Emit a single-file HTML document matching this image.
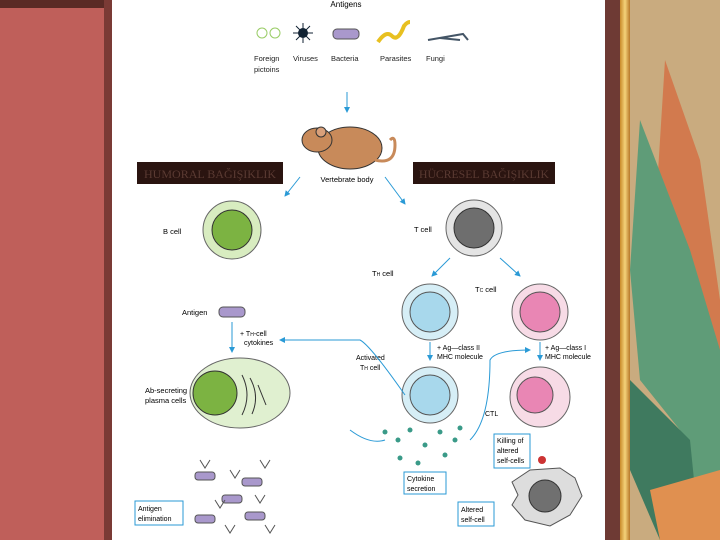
<!DOCTYPE html>
<html><head><meta charset="utf-8"><style>
html,body{margin:0;padding:0;width:720px;height:540px;overflow:hidden;background:#bf5f5a;font-family:"Liberation Sans",sans-serif}
svg{position:absolute;left:0;top:0}
</style></head><body>
<svg width="720" height="540" viewBox="0 0 720 540">
<defs>
<linearGradient id="gold" x1="0" x2="1"><stop offset="0" stop-color="#c98a2a"/><stop offset=".5" stop-color="#f4d27a"/><stop offset="1" stop-color="#b7782a"/></linearGradient>
<marker id="ar" markerWidth="6" markerHeight="6" refX="5" refY="3" orient="auto"><path d="M0,0L6,3L0,6z" fill="#2a9ad6"/></marker>
</defs>
<rect x="0" y="0" width="720" height="8" fill="#5a2a25"/>
<rect x="104" y="0" width="9" height="540" fill="#7a3a35"/>
<rect x="112" y="0" width="493" height="540" fill="#fff"/>
<rect x="605" y="0" width="15" height="540" fill="#6e3a34"/>
<rect x="620" y="0" width="10" height="540" fill="url(#gold)"/>
<rect x="630" y="0" width="90" height="540" fill="#c9ab7f"/>
<path d="M665,60 L700,160 L720,300 L720,540 L690,540 L680,400 L650,300 Z" fill="#d27a4e"/>
<path d="M640,120 L690,250 L720,350 L720,540 L700,540 L680,430 L640,380 L630,270 Z" fill="#5f9c78"/>
<path d="M630,380 L690,440 L700,540 L660,540 L630,470 Z" fill="#3f7a5f"/>
<path d="M650,490 L720,470 L720,540 L660,540Z" fill="#e09050"/>
<text x="346" y="7" font-size="8" text-anchor="middle">Antigens</text>
<circle cx="262" cy="33" r="5" fill="none" stroke="#9c6" /><circle cx="275" cy="33" r="5" fill="none" stroke="#9c6"/>
<circle cx="303" cy="33" r="5" fill="#123"/><g stroke="#123"><line x1="293" y1="33" x2="313" y2="33"/><line x1="303" y1="23" x2="303" y2="43"/><line x1="296" y1="26" x2="310" y2="40"/><line x1="310" y1="26" x2="296" y2="40"/></g>
<rect x="333" y="29" width="26" height="10" rx="4" fill="#a998cc" stroke="#555"/>
<path d="M378,42 q8,-12 14,-6 q6,6 12,-10 q3,-4 6,-4" stroke="#e8c020" stroke-width="4" fill="none"/>
<path d="M428,40 l35,-6 l5,6 M440,38 l20,2" stroke="#456" stroke-width="2" fill="none"/>
<g font-size="7.5" fill="#222"><text x="254" y="61">Foreign</text><text x="254" y="72">pictoins</text><text x="293" y="61">Viruses</text><text x="331" y="61">Bacteria</text><text x="380" y="61">Parasites</text><text x="426" y="61">Fungi</text></g>
<line x1="347" y1="92" x2="347" y2="112" stroke="#2a9ad6" marker-end="url(#ar)"/>
<ellipse cx="350" cy="148" rx="32" ry="21" fill="#c88a5a" stroke="#333"/>
<ellipse cx="317" cy="140" rx="15" ry="12" fill="#c88a5a" stroke="#333"/>
<circle cx="321" cy="132" r="5" fill="#d9a07a" stroke="#333"/>
<path d="M375,160 q20,5 20,-15 q0,-10 -5,-5" stroke="#c88a5a" stroke-width="3" fill="none"/>
<text x="347" y="182" font-size="7.5" text-anchor="middle">Vertebrate body</text>
<rect x="137" y="162" width="146" height="22" fill="#2a1410"/>
<text x="144" y="178" font-size="12" font-family="Liberation Serif,serif" textLength="132" lengthAdjust="spacingAndGlyphs" fill="#5a3a32">HUMORAL BAĞIŞIKLIK</text>
<rect x="413" y="162" width="142" height="22" fill="#2a1410"/>
<text x="419" y="178" font-size="12" font-family="Liberation Serif,serif" textLength="130" lengthAdjust="spacingAndGlyphs" fill="#5a3a32">HÜCRESEL BAĞIŞIKLIK</text>
<line x1="300" y1="177" x2="285" y2="196" stroke="#2a9ad6" marker-end="url(#ar)"/>
<line x1="385" y1="177" x2="405" y2="204" stroke="#2a9ad6" marker-end="url(#ar)"/>
<circle cx="232" cy="230" r="29" fill="#d8ecc0" stroke="#666"/><circle cx="232" cy="230" r="20" fill="#7cb342" stroke="#333"/>
<text x="163" y="234" font-size="7.5">B cell</text>
<circle cx="474" cy="228" r="28" fill="#e4e4e4" stroke="#666"/><circle cx="474" cy="228" r="20" fill="#6e6e6e" stroke="#333"/>
<text x="414" y="232" font-size="7.5">T cell</text>
<line x1="450" y1="258" x2="432" y2="276" stroke="#2a9ad6" marker-end="url(#ar)"/>
<line x1="500" y1="258" x2="520" y2="276" stroke="#2a9ad6" marker-end="url(#ar)"/>
<text x="372" y="276" font-size="7.5">T<tspan font-size="5">H</tspan> cell</text>
<text x="475" y="292" font-size="7.5">T<tspan font-size="5">C</tspan> cell</text>
<circle cx="430" cy="312" r="28" fill="#d6eef6" stroke="#666"/><circle cx="430" cy="312" r="20" fill="#a8d8ec" stroke="#555"/>
<circle cx="540" cy="312" r="28" fill="#f7dbe6" stroke="#666"/><circle cx="540" cy="312" r="20" fill="#e986b4" stroke="#555"/>
<line x1="430" y1="342" x2="430" y2="360" stroke="#2a9ad6" marker-end="url(#ar)"/>
<line x1="540" y1="342" x2="540" y2="360" stroke="#2a9ad6" marker-end="url(#ar)"/>
<g font-size="7"><text x="437" y="350">+ Ag—class II</text><text x="437" y="359">MHC molecule</text><text x="545" y="350">+ Ag—class I</text><text x="545" y="359">MHC molecule</text>
<text x="356" y="360">Activated</text><text x="360" y="370">T<tspan font-size="5">H</tspan> cell</text><text x="485" y="416">CTL</text></g>
<circle cx="430" cy="395" r="28" fill="#d6eef6" stroke="#666"/><circle cx="430" cy="395" r="20" fill="#a8d8ec" stroke="#555"/>
<circle cx="540" cy="397" r="30" fill="#f7dbe6" stroke="#666"/><circle cx="535" cy="395" r="18" fill="#e986b4" stroke="#555"/>
<path d="M405,395 Q370,345 360,340 L280,340" stroke="#2a9ad6" fill="none" marker-end="url(#ar)"/>
<path d="M350,430 Q370,445 385,440" stroke="#2a9ad6" fill="none"/>
<path d="M470,440 Q490,420 490,360 Q495,350 530,350" stroke="#2a9ad6" fill="none" marker-end="url(#ar)"/>
<g fill="#3a9a88"><circle cx="385" cy="432" r="2.5"/><circle cx="398" cy="440" r="2.5"/><circle cx="410" cy="430" r="2.5"/><circle cx="425" cy="445" r="2.5"/><circle cx="440" cy="432" r="2.5"/><circle cx="455" cy="440" r="2.5"/><circle cx="400" cy="458" r="2.5"/><circle cx="418" cy="463" r="2.5"/><circle cx="445" cy="455" r="2.5"/><circle cx="460" cy="428" r="2.5"/></g>
<rect x="404" y="472" width="42" height="22" fill="#fff" stroke="#2a9ad6"/>
<text x="407" y="481" font-size="7">Cytokine</text><text x="407" y="491" font-size="7">secretion</text>
<rect x="494" y="434" width="36" height="34" fill="#fff" stroke="#2a9ad6"/>
<g font-size="7"><text x="497" y="443">Killing of</text><text x="497" y="453">altered</text><text x="497" y="463">self-cells</text></g>
<circle cx="542" cy="460" r="4" fill="#c33"/>
<path d="M512,482 L530,470 L560,468 L575,478 L582,496 L570,515 L550,526 L525,520 L512,505 L518,495 Z" fill="#ddd" stroke="#555"/>
<circle cx="545" cy="496" r="16" fill="#707070" stroke="#333"/>
<rect x="458" y="502" width="36" height="24" fill="#fff" stroke="#2a9ad6"/>
<text x="461" y="512" font-size="7">Altered</text><text x="461" y="522" font-size="7">self-cell</text>
<rect x="219" y="307" width="26" height="10" rx="4" fill="#a998cc" stroke="#555"/>
<text x="182" y="315" font-size="7.5">Antigen</text>
<line x1="232" y1="322" x2="232" y2="352" stroke="#2a9ad6" marker-end="url(#ar)"/>
<text x="240" y="336" font-size="7">+ T<tspan font-size="5">H</tspan>-cell</text><text x="244" y="345" font-size="7">cytokines</text>
<ellipse cx="240" cy="393" rx="50" ry="35" fill="#e0f0d0" stroke="#666"/>
<circle cx="215" cy="393" r="22" fill="#7cb342" stroke="#333"/>
<path d="M242,375 q10,20 0,40 M250,378 q10,18 2,36 M258,385 l8,20" stroke="#333" fill="none"/>
<text x="145" y="393" font-size="7.5">Ab-secreting</text><text x="145" y="403" font-size="7.5">plasma cells</text>
<g fill="#a998cc" stroke="#555"><rect x="195" y="472" width="20" height="8" rx="3"/><rect x="242" y="478" width="20" height="8" rx="3"/><rect x="222" y="495" width="20" height="8" rx="3"/><rect x="195" y="515" width="20" height="8" rx="3"/><rect x="245" y="512" width="20" height="8" rx="3"/></g>
<g stroke="#555" fill="none"><path d="M200,460 l5,8 l5,-8 M230,470 l5,8 l5,-8 M260,460 l5,8 l5,-8 M215,500 l5,8 l5,-8 M255,495 l5,8 l5,-8 M265,525 l5,8 l5,-8 M225,525 l5,8 l5,-8"/></g>
<rect x="135" y="501" width="48" height="24" fill="#fff" stroke="#2a9ad6"/>
<text x="138" y="511" font-size="7">Antigen</text><text x="138" y="521" font-size="7">elimination</text>
</svg>
</body></html>
